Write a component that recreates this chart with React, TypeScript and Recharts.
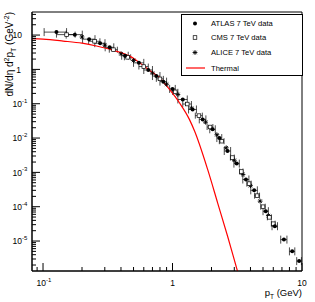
import React from 'react';
import { ComposedChart, Line, Scatter, XAxis, YAxis, ErrorBar, ReferenceArea, Legend, Label } from 'recharts';

const FONT = '"Liberation Sans", Arial, Helvetica, sans-serif';

// ATLAS 7 TeV: pT (GeV), yield, half bin width
const atlasPt = [0.127, 0.176, 0.227, 0.276, 0.327, 0.43, 0.55, 0.65, 0.75, 0.85, 1.0, 1.2, 1.43, 1.71, 2.04, 2.3, 2.66, 3.13, 3.69, 4.27, 5.25, 6.17, 7.25, 8.4, 9.5];
const atlasYield = [12.2, 10.3, 7.6, 5.8, 4.4, 2.5, 1.55, 0.96, 0.64, 0.44, 0.27, 0.133, 0.068, 0.035, 0.018, 0.01, 0.0042, 0.0018, 6.2e-4, 3.0e-4, 7.4e-5, 2.7e-5, 1.1e-5, 5.0e-6, 2.6e-6];
const atlasPtErr = [0.025, 0.025, 0.025, 0.025, 0.025, 0.025, 0.05, 0.05, 0.05, 0.05, 0.05, 0.1, 0.1, 0.1, 0.1, 0.1, 0.15, 0.15, 0.2, 0.25, 0.25, 0.3, 0.4, 0.4, 0.4];

// CMS 7 TeV
const cmsPt = [0.152, 0.25, 0.35, 0.45, 0.6, 0.8, 1.05, 1.3, 1.6, 1.95, 2.4, 2.9, 3.4, 3.9, 4.5, 5.0, 5.6, 6.0];
const cmsYield = [10.3, 6.6, 3.75, 2.25, 1.21, 0.53, 0.222, 0.098, 0.045, 0.021, 0.0081, 0.0027, 0.00106, 4.7e-4, 2.1e-4, 1.0e-4, 4.9e-5, 3.2e-5];
const cmsPtErr = [0.025, 0.025, 0.025, 0.025, 0.05, 0.05, 0.05, 0.1, 0.1, 0.1, 0.1, 0.1, 0.1, 0.15, 0.2, 0.2, 0.2, 0.2];

// ALICE 7 TeV
const alicePt = [0.2, 0.3, 0.4, 0.5, 0.7, 0.9, 1.1, 1.4, 1.8, 2.2, 2.6, 3.0, 3.5, 4.0, 4.75, 5.5];
const aliceYield = [8.8, 5.1, 2.84, 1.82, 0.78, 0.37, 0.186, 0.0745, 0.029, 0.0125, 0.0052, 0.00225, 8.7e-4, 4.1e-4, 1.45e-4, 5.5e-5];

// Thermal curve
const thermalPt = [0.082, 0.1, 0.143, 0.2, 0.259, 0.35, 0.467, 0.557, 0.65, 0.794, 0.948, 1.13, 1.35, 1.48, 1.87, 2.23, 2.66, 3.18, 3.3];
const thermalYield = [7.85, 7.6, 6.7, 5.8, 4.8, 3.6, 2.44, 1.57, 1.0, 0.57, 0.26, 0.107, 0.035, 0.016, 1.2e-3, 1.3e-4, 1.4e-5, 1.3e-6, 8e-7];

const xDecades = [0.01, 0.1, 1];
const yDecades = [1e-6, 1e-5, 1e-4, 1e-3, 1e-2, 1e-1, 1, 10];
const X_DOMAIN = [0.0822, 10];
const Y_DOMAIN = [1.34e-6, 47];

const atlas = atlasPt.map((x, i) => ({ x, y: atlasYield[i], ex: atlasPtErr[i] }));
const cms = cmsPt.map((x, i) => ({ x, y: cmsYield[i], ex: cmsPtErr[i] }));
const alice = alicePt.map((x, i) => ({ x, y: aliceYield[i] }));
const thermal = thermalPt.map((x, i) => ({ x, y: thermalYield[i] }));

const logTicks = (decades: number[], [lo, hi]: number[]) =>
  decades
    .flatMap((d) => [1, 2, 3, 4, 5, 6, 7, 8, 9].map((m) => +(m * d).toPrecision(6)))
    .concat([+(decades[decades.length - 1] * 10).toPrecision(6)])
    .filter((v) => v >= lo * 0.999 && v <= hi * 1.001);

const isDecade = (v: number) => Math.abs(Math.log10(v) - Math.round(Math.log10(v))) < 1e-6;

const XTick = (props: any) => {
  const { x, y, payload } = props;
  const v = payload.value;
  const major = isDecade(v);
  const e = Math.round(Math.log10(v));
  return (
    <g>
      <line x1={x} x2={x} y1={y} y2={y - (major ? 8 : 4)} stroke="#000" strokeWidth={1} />
      {major && (
        <text x={x + (e < 0 ? 1 : 0)} y={y + 14.5} textAnchor="middle" fontSize={8.5} fontFamily={FONT} fill="#000">
          {e === 0 ? '1' : '10'}
          {e < 0 && (
            <tspan fontSize={6} dy={-4}>
              {String(e)}
            </tspan>
          )}
        </text>
      )}
    </g>
  );
};

const YTick = (props: any) => {
  const { x, y, payload } = props;
  const v = payload.value;
  const major = isDecade(v);
  const e = Math.round(Math.log10(v));
  return (
    <g>
      <line x1={x} x2={x + (major ? 8 : 4)} y1={y} y2={y} stroke="#000" strokeWidth={1} />
      {major && (
        <g fontFamily={FONT} fill="#000">
          <text x={x - (e === 0 ? 11 : 10)} y={y + 3.2} textAnchor="end" fontSize={8.5}>
            {e === 0 ? '1' : '10'}
          </text>
          {e < 0 && (
            <text x={x - 10} y={y - 1} textAnchor="start" fontSize={6}>
              {String(e)}
            </text>
          )}
        </g>
      )}
    </g>
  );
};

const Dot = (props: any) => <circle cx={props.cx} cy={props.cy} r={2} fill="#000" />;
const Square = (props: any) => (
  <rect x={props.cx - 1.8} y={props.cy - 1.8} width={3.6} height={3.6} fill="#fff" stroke="#000" strokeWidth={0.7} />
);
const Star = (props: any) => {
  const { cx, cy } = props;
  const r = 2.4;
  const d = r * 0.72;
  return (
    <g stroke="#000" strokeWidth={0.9}>
      <line x1={cx - r} x2={cx + r} y1={cy} y2={cy} />
      <line x1={cx} x2={cx} y1={cy - r} y2={cy + r} />
      <line x1={cx - d} x2={cx + d} y1={cy - d} y2={cy + d} />
      <line x1={cx - d} x2={cx + d} y1={cy + d} y2={cy - d} />
    </g>
  );
};

const legendRows = [
  { label: 'ATLAS 7 TeV data', kind: 'dot', y: 9.5 },
  { label: 'CMS 7 TeV data', kind: 'square', y: 23.5 },
  { label: 'ALICE 7 TeV data', kind: 'star', y: 38.5 },
  { label: 'Thermal', kind: 'line', y: 54 },
];

const LegendBox = () => (
  <svg width={122} height={62} style={{ display: 'block' }}>
    <rect x={0.5} y={0.5} width={121} height={61} fill="#fff" stroke="#000" strokeWidth={1} />
    {legendRows.map((r) => (
      <g key={r.label}>
        {r.kind === 'dot' && <Dot cx={14} cy={r.y} />}
        {r.kind === 'square' && <Square cx={14} cy={r.y} />}
        {r.kind === 'star' && <Star cx={14} cy={r.y} />}
        {r.kind === 'line' && <line x1={5} x2={24} y1={r.y} y2={r.y} stroke="#ff0000" strokeWidth={1.2} />}
        <text x={30} y={r.y + 2.8} fontSize={7.6} fontFamily={FONT} fill="#000">
          {r.label}
        </text>
      </g>
    ))}
  </svg>
);

export default function App() {
  return (
    <div style={{ position: 'absolute', left: 0, top: 0, width: 315, height: 302, background: '#fff' }}>
      <ComposedChart width={315} height={302} margin={{ top: 12, right: 13, bottom: 0, left: 0 }}>
        <XAxis
          type="number"
          dataKey="x"
          scale="log"
          domain={X_DOMAIN}
          allowDataOverflow
          ticks={logTicks(xDecades, X_DOMAIN)}
          interval={0}
          tick={<XTick />}
          tickLine={false}
          tickSize={0}
          tickMargin={0}
          height={31}
          axisLine={{ stroke: '#000' }}
        >
          <Label
            content={() => (
              <text x={302} y={296} textAnchor="end" fontSize={9.5} fontFamily={FONT} fill="#000">
                p
                <tspan fontSize={6.5} dy={2.5}>T</tspan>
                <tspan dy={-2.5}> (GeV)</tspan>
              </text>
            )}
          />
        </XAxis>
        <YAxis
          type="number"
          dataKey="y"
          scale="log"
          domain={Y_DOMAIN}
          allowDataOverflow
          ticks={logTicks(yDecades, Y_DOMAIN)}
          interval={0}
          tick={<YTick />}
          tickLine={false}
          tickSize={0}
          tickMargin={0}
          width={32}
          axisLine={{ stroke: '#000' }}
        >
          <Label
            content={() => (
              <text
                transform="translate(13,12) rotate(-90)"
                x={0}
                y={0}
                textAnchor="end"
                fontSize={10}
                fontFamily={FONT}
                fill="#000"
              >
                dN/dη d<tspan fontSize={7} dy={-4}>2</tspan>
                <tspan dy={4}>p</tspan>
                <tspan fontSize={7} dy={2.5}>T</tspan>
                <tspan dy={-2.5}> (GeV</tspan>
                <tspan fontSize={7} dy={-4}>-2</tspan>
                <tspan dy={4}>)</tspan>
              </text>
            )}
          />
        </YAxis>
        <ReferenceArea x1={X_DOMAIN[0]} x2={X_DOMAIN[1]} y1={Y_DOMAIN[0]} y2={Y_DOMAIN[1]} fill="none" stroke="#000" strokeWidth={1} />
        <Scatter name="ALICE 7 TeV data" data={alice} shape={<Star />} isAnimationActive={false} />
        <Scatter name="CMS 7 TeV data" data={cms} shape={<Square />} isAnimationActive={false}>
          <ErrorBar dataKey="ex" direction="x" width={3} stroke="#000" strokeWidth={0.7} />
        </Scatter>
        <Scatter name="ATLAS 7 TeV data" data={atlas} shape={<Dot />} isAnimationActive={false}>
          <ErrorBar dataKey="ex" direction="x" width={4} stroke="#000" strokeWidth={0.7} />
        </Scatter>
        <Line
          name="Thermal"
          data={thermal}
          dataKey="y"
          type="monotone"
          stroke="#ff0000"
          strokeWidth={1.2}
          dot={false}
          activeDot={false}
          isAnimationActive={false}
        />
        <Legend
          layout="vertical"
          align="center"
          verticalAlign="middle"
          wrapperStyle={{ position: 'absolute', left: 181, top: 14, width: 122, height: 62 }}
          content={() => <LegendBox />}
        />
      </ComposedChart>
    </div>
  );
}
